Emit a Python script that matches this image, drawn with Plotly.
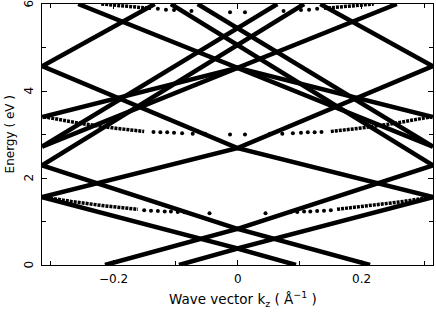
import plotly.graph_objects as go

# ---- data (k in 1/Angstrom, E in eV) ----
bandA_k = [-0.256, 0.0, 0.256]; bandA_E = [6.00, 4.53, 6.00]
bandB_k = [-0.314, 0.0, 0.314]; bandB_E = [3.40, 4.53, 3.40]
bandC_k = [-0.314, 0.0, 0.314]; bandC_E = [2.72, 4.53, 2.72]
bandD_k = [-0.314, -0.133, None, 0.133, 0.314]; bandD_E = [4.57, 6.00, None, 6.00, 4.57]
bandE_k = [-0.314, 0.0, 0.314]; bandE_E = [4.57, 2.69, 4.57]
bandF_k = [-0.314, 0.0, 0.314]; bandF_E = [1.56, 2.69, 1.56]
bandG_k = [-0.314, 0.0, 0.314]; bandG_E = [1.56, 0.38, 1.56]
bandH_k = [-0.094, 0.0, 0.094]; bandH_E = [0.00, 0.38, 0.00]
bandI_k = [-0.314, 0.0, 0.314]; bandI_E = [2.29, 0.83, 2.29]
bandJ_k = [-0.213, 0.0, 0.213]; bandJ_E = [0.00, 0.83, 0.00]
bandK_k = [-0.107, 0.314, None, 0.107, -0.314]; bandK_E = [6.00, 2.29, None, 6.00, 2.29]
bandL_k = [-0.064, 0.314, None, 0.064, -0.314]; bandL_E = [6.00, 2.72, None, 6.00, 2.72]

dot1_dense_k = [-0.314, -0.267, -0.2135, -0.160, 0.160, 0.2135, 0.267, 0.314]
dot1_dense_E = [1.57, 1.46, 1.36, 1.28, 1.28, 1.36, 1.46, 1.57]
dot1_k = [-0.150, -0.139, -0.128, -0.117, -0.107, -0.096, -0.085, -0.045,
          0.045, 0.085, 0.096, 0.107, 0.117, 0.128, 0.139, 0.150]
dot1_E = [1.26, 1.25, 1.24, 1.23, 1.23, 1.22, 1.21, 1.19,
          1.19, 1.21, 1.22, 1.23, 1.23, 1.24, 1.25, 1.26]

dot2_dense_k = [-0.312, -0.250, -0.194, -0.150, 0.150, 0.194, 0.250, 0.312]
dot2_dense_E = [3.41, 3.25, 3.14, 3.07, 3.07, 3.14, 3.25, 3.41]
dot2_k = [-0.135, -0.124, -0.113, -0.102, -0.089, -0.072, -0.052, -0.012,
          0.012, 0.052, 0.072, 0.089, 0.102, 0.113, 0.124, 0.135]
dot2_E = [3.06, 3.05, 3.05, 3.04, 3.03, 3.02, 3.02, 3.00,
          3.00, 3.02, 3.02, 3.03, 3.04, 3.05, 3.05, 3.06]

dot3_dense_k = [-0.219, -0.185, -0.139, 0.139, 0.185, 0.219]
dot3_dense_E = [6.00, 5.95, 5.90, 5.90, 5.95, 6.00]
dot3_k = [-0.128, -0.115, -0.102, -0.074, -0.012,
          0.012, 0.074, 0.102, 0.115, 0.128]
dot3_E = [5.89, 5.87, 5.86, 5.84, 5.81,
          5.81, 5.84, 5.86, 5.87, 5.89]

x_ticks = [-0.2, 0.0, 0.2]; x_ticktext = ["\u22120.2", "0", "0.2"]
x_minor = [-0.3, -0.1, 0.1, 0.3]
y_ticks = [0, 2, 4, 6]; y_ticktext = ["0", "2", "4", "6"]
y_minor = [1, 3, 5]

fig = go.Figure()
solid = [(bandA_k, bandA_E), (bandB_k, bandB_E), (bandC_k, bandC_E),
         (bandD_k, bandD_E), (bandE_k, bandE_E), (bandF_k, bandF_E),
         (bandG_k, bandG_E), (bandH_k, bandH_E), (bandI_k, bandI_E),
         (bandJ_k, bandJ_E), (bandK_k, bandK_E), (bandL_k, bandL_E)]
for k, e in solid:
    fig.add_trace(go.Scatter(x=k, y=e, mode="lines",
                             line=dict(color="black", width=4.5),
                             hoverinfo="skip", showlegend=False))

for dk, de, sk, se in [(dot1_dense_k, dot1_dense_E, dot1_k, dot1_E),
                       (dot2_dense_k, dot2_dense_E, dot2_k, dot2_E),
                       (dot3_dense_k, dot3_dense_E, dot3_k, dot3_E)]:
    n = len(dk) // 2
    for part_k, part_e in [(dk[:n], de[:n]), (dk[n:], de[n:])]:
        fig.add_trace(go.Scatter(x=part_k, y=part_e, mode="lines",
                                 line=dict(color="black", width=3.5, dash="3px,1px"),
                                 hoverinfo="skip", showlegend=False))
    fig.add_trace(go.Scatter(x=sk, y=se, mode="markers",
                             marker=dict(color="black", size=4),
                             hoverinfo="skip", showlegend=False))

font = "DejaVu Sans, Liberation Sans, sans-serif"
annotations = []
for v, t in zip(y_ticks, y_ticktext):
    annotations.append(dict(x=-0.0345, xref="paper", y=v, yref="y", text=t,
                            showarrow=False, textangle=-90,
                            xanchor="center", yanchor="middle",
                            font=dict(size=12)))
for v, t in zip(x_ticks, x_ticktext):
    annotations.append(dict(x=v, xref="x", y=-0.0536, yref="paper", text=t,
                            showarrow=False, xanchor="center", yanchor="middle",
                            font=dict(size=12)))
annotations.append(dict(x=-0.082, xref="paper", y=0.5, yref="paper",
                        text="Energy ( eV )", showarrow=False, textangle=-90,
                        xanchor="center", yanchor="middle", font=dict(size=12)))
annotations.append(dict(x=0.514, xref="paper", y=-0.13, yref="paper",
                        text="Wave vector k<sub>z</sub> ( \u00c5<sup>\u22121</sup> )",
                        showarrow=False, xanchor="center", yanchor="middle",
                        font=dict(size=13.5)))

fig.update_layout(
    width=436, height=317,
    margin=dict(l=42, r=3, t=4, b=52),
    paper_bgcolor="white", plot_bgcolor="white",
    font=dict(family=font, size=12, color="black"),
    annotations=annotations,
    xaxis=dict(range=[-0.3142, 0.3142], showgrid=False, zeroline=False,
               automargin=False, showticklabels=False,
               showline=True, linecolor="black", linewidth=1, mirror="ticks",
               ticks="inside", ticklen=5, tickcolor="black",
               tickvals=x_ticks,
               minor=dict(tickvals=x_minor, ticks="inside", ticklen=4, tickcolor="black")),
    yaxis=dict(range=[0, 6], showgrid=False, zeroline=False,
               automargin=False, showticklabels=False,
               showline=True, linecolor="black", linewidth=1, mirror="ticks",
               ticks="inside", ticklen=5, tickcolor="black",
               tickvals=y_ticks,
               minor=dict(tickvals=y_minor, ticks="inside", ticklen=4, tickcolor="black")),
)
fig.write_html("out.html", config={"displayModeBar": False},
               post_script="document.body.style.margin='0';document.body.style.padding='0';")
